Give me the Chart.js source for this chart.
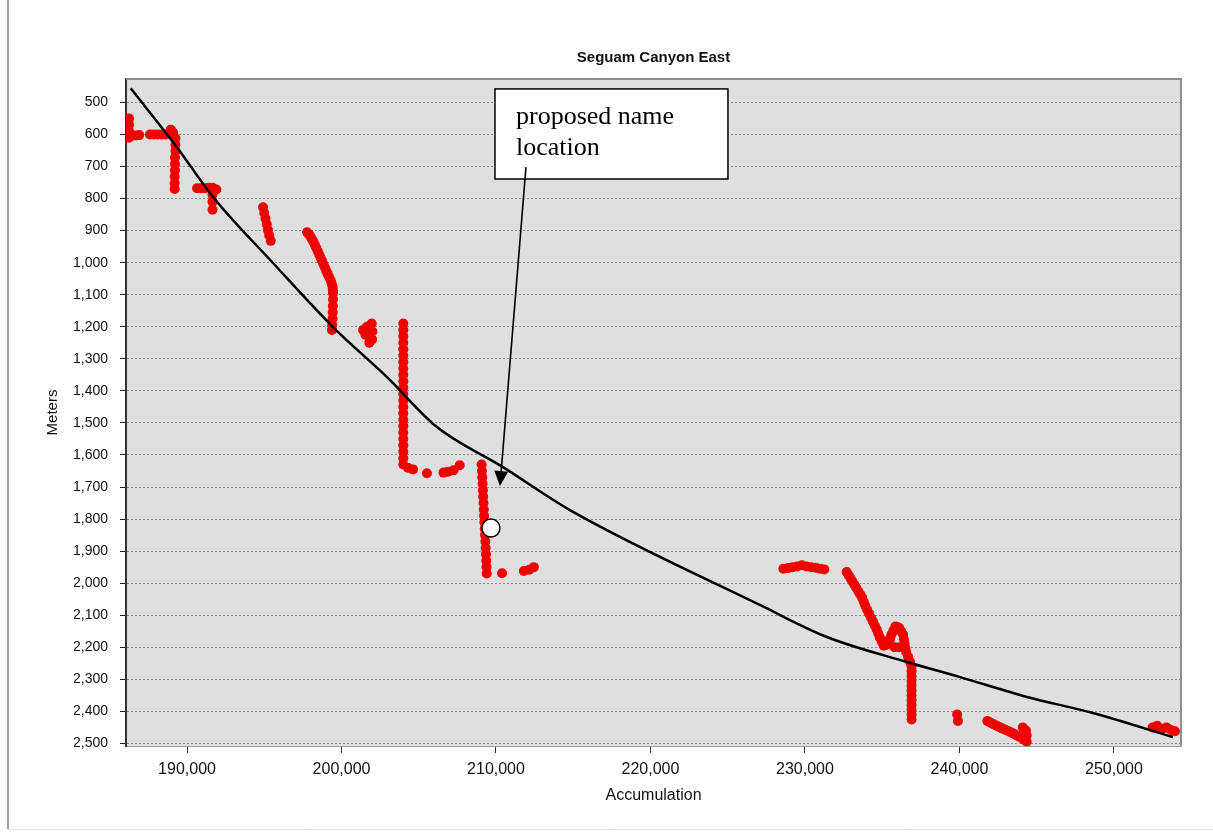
<!DOCTYPE html>
<html>
<head>
<meta charset="utf-8">
<title>Seguam Canyon East</title>
<script src="https://cdn.jsdelivr.net/npm/chart.js@4.4.1/dist/chart.umd.min.js"></script>
<style>
  html, body { margin: 0; padding: 0; background: #fff; }
  #wrap { position: relative; width: 1213px; height: 834px; }
</style>
</head>
<body>
<div id="wrap"><canvas id="chart" width="1213" height="834"></canvas></div>
<script>
// Red survey points (accumulation, meters)
const redX = [
  186150, 186250, 186250, 186250, 186250, 186450, 186700, 186900,
  187600, 187850, 188100, 188350, 188600, 188850, 188950, 189100, 189250, 189250, 189250, 189220, 189220, 189220, 189200, 189200, 189200,
  190650, 190900, 191150, 191400, 191650, 191650, 191650, 191650, 191900,
  194920, 195000, 195080, 195160, 195240, 195320, 195420,
  197770, 197980, 198180, 198380, 198560, 198740, 198920, 199100, 199300, 199420, 199450, 199450, 199440, 199430, 199420, 199400, 199380,
  197875, 198080, 198280, 198470, 198650, 198830, 199010, 199200, 199360, 199440,
  201400, 201650, 201950, 202000, 201980, 201800, 201550,
  204000, 204000, 204000, 204000, 204000, 204000, 204000, 204000, 204000, 204000, 204000, 204000,
  204000, 204000, 204000, 204000, 204000, 204000, 204000, 204000, 204000, 204000, 204000,
  204300, 204630, 205530, 206600, 206900, 207250, 207650,
  209070, 209090, 209110, 209130, 209150, 209170, 209190, 209210, 209230, 209250, 209270, 209290,
  209310, 209330, 209350, 209370, 209385, 209400,
  210390, 211800, 212150, 212450,
  228600, 228900, 229200, 229500, 229800, 230100, 230400, 230700, 231000, 231250,
  232700, 232950, 233200, 233450, 233700, 233900, 234150, 234400, 234650, 234850, 235100, 235350, 235600, 235850,
  236100, 236350, 236450, 236550, 235800, 236100, 235500,
  232825, 233075, 233325, 233575, 233800, 234025, 234275, 234525, 234750, 234975, 235225, 235475, 235725, 235975,
  236225, 236400, 236500, 236675,
  236800, 236900, 236900, 236900, 236900, 236900, 236900,
  236900, 236900, 236900, 236900, 236900, 236900,
  239850, 239900,
  241800, 242100, 242400, 242700, 243000, 243300, 243600, 243900, 244200, 244350, 244300, 244100, 244350,
  241950, 242250, 242550, 242850, 243150, 243450, 243750, 244050,
  252500, 252800, 253100, 253400, 253700, 253950
];
const redY = [
  602, 550, 570, 590, 610, 603, 603, 602,
  600, 600, 600, 600, 600, 598, 585, 595, 612, 632, 652, 672, 692, 712, 732, 752, 770,
  768, 768, 768, 766, 766, 788, 810, 835, 772,
  827, 845, 862, 880, 898, 915, 932,
  905, 918, 935, 955, 975, 995, 1015, 1035, 1055, 1075, 1095, 1115, 1135, 1155, 1175, 1195, 1210,
  911, 926, 945, 965, 985, 1005, 1025, 1045, 1065, 1085,
  1210, 1200, 1190, 1215, 1240, 1250, 1225,
  1190, 1210, 1230, 1250, 1270, 1290, 1310, 1330, 1350, 1370, 1390, 1410,
  1430, 1450, 1470, 1490, 1510, 1530, 1550, 1570, 1590, 1610, 1630,
  1640, 1645, 1657, 1655, 1652, 1648, 1632,
  1630, 1650, 1670, 1690, 1710, 1730, 1750, 1770, 1790, 1810, 1830, 1850,
  1870, 1890, 1910, 1930, 1950, 1970,
  1969, 1962, 1958, 1950,
  1955, 1953, 1950, 1948, 1944, 1948, 1950, 1952, 1955, 1957,
  1965, 1985, 2005, 2025, 2045, 2070, 2095, 2120, 2145, 2170, 2195, 2190, 2160, 2135,
  2140, 2160, 2190, 2215, 2200, 2200, 2175,
  1975, 1995, 2015, 2035, 2058, 2083, 2108, 2133, 2158, 2183, 2193, 2175, 2148, 2137,
  2150, 2175, 2203, 2230,
  2245, 2275, 2305, 2335, 2365, 2395, 2425,
  2260, 2290, 2320, 2350, 2380, 2410,
  2410, 2430,
  2430, 2438, 2445, 2452, 2458, 2465, 2472, 2480, 2488, 2495, 2460, 2450, 2475,
  2434, 2441, 2448, 2455, 2461, 2468, 2476, 2484,
  2450, 2445, 2455, 2450, 2458, 2462
];

// Black fitted profile
const curveX = [186356, 189333, 191683, 195566, 199449, 202944, 206180, 210452, 214788, 227085, 231421, 236598, 240029, 244365, 248636, 253814];
const curveY = [456, 639, 795, 1001, 1201, 1357, 1513, 1638, 1772, 2068, 2168, 2246, 2293, 2355, 2405, 2480];

// Proposed name location marker
const markerX = [209675];
const markerY = [1828];

const xTicks = [190000, 200000, 210000, 220000, 230000, 240000, 250000];
const yTicks = [500, 600, 700, 800, 900, 1000, 1100, 1200, 1300, 1400, 1500, 1600, 1700, 1800, 1900, 2000, 2100, 2200, 2300, 2400, 2500];

// Callout: box corners and arrow, in data units
const noteText = ["proposed name", "location"];
const noteBoxX = [209934, 225014];
const noteBoxY = [458, 739];
const noteArrowX = [211940, 210257];
const noteArrowY = [702, 1697];

const SANS = '"Liberation Sans", Arial, sans-serif';

const toPoints = (xs, ys) => xs.map((v, i) => ({ x: v, y: ys[i] }));

const decorations = {
  id: "decorations",
  beforeDraw(chart) {
    const { ctx, chartArea: a } = chart;
    ctx.save();
    ctx.fillStyle = "#ffffff";
    ctx.fillRect(0, 0, chart.width, chart.height);
    ctx.fillStyle = "#dfdfdf";
    ctx.fillRect(a.left, a.top, a.right - a.left, a.bottom - a.top);
    // page frame
    ctx.strokeStyle = "#a0a0a0";
    ctx.lineWidth = 2;
    ctx.beginPath();
    ctx.moveTo(8, 0);
    ctx.lineTo(8, 829);
    ctx.stroke();
    ctx.strokeStyle = "#e4e4e4";
    ctx.lineWidth = 1;
    ctx.beginPath();
    ctx.moveTo(8, 829.5);
    ctx.lineTo(chart.width, 829.5);
    ctx.stroke();
    ctx.restore();
  },
  afterDraw(chart) {
    const { ctx, chartArea: a, scales } = chart;
    const x = scales.x, y = scales.y;
    ctx.save();
    // plot frame top / right
    ctx.strokeStyle = "#8f8f8f";
    ctx.lineWidth = 2;
    ctx.beginPath();
    ctx.moveTo(a.left, a.top);
    ctx.lineTo(a.right, a.top);
    ctx.lineTo(a.right, a.bottom);
    ctx.stroke();

    // callout box
    const bx1 = x.getPixelForValue(noteBoxX[0]);
    const bx2 = x.getPixelForValue(noteBoxX[1]);
    const by1 = y.getPixelForValue(noteBoxY[0]);
    const by2 = y.getPixelForValue(noteBoxY[1]);
    ctx.fillStyle = "#ffffff";
    ctx.fillRect(bx1, by1, bx2 - bx1, by2 - by1);
    ctx.strokeStyle = "#000";
    ctx.lineWidth = 1.5;
    ctx.strokeRect(bx1, by1, bx2 - bx1, by2 - by1);
    ctx.fillStyle = "#000";
    ctx.font = '26px "Liberation Serif", "Times New Roman", serif';
    ctx.textAlign = "left";
    ctx.textBaseline = "alphabetic";
    ctx.fillText(noteText[0], bx1 + 21, by1 + 35);
    ctx.fillText(noteText[1], bx1 + 21, by1 + 66);

    // arrow
    const sx = x.getPixelForValue(noteArrowX[0]);
    const sy = y.getPixelForValue(noteArrowY[0]);
    const tx = x.getPixelForValue(noteArrowX[1]);
    const ty = y.getPixelForValue(noteArrowY[1]);
    const ang = Math.atan2(ty - sy, tx - sx);
    const len = 15, half = 7;
    const baseX = tx - len * Math.cos(ang), baseY = ty - len * Math.sin(ang);
    ctx.lineWidth = 1.6;
    ctx.beginPath();
    ctx.moveTo(sx, sy);
    ctx.lineTo(baseX, baseY);
    ctx.stroke();
    ctx.beginPath();
    ctx.moveTo(tx, ty);
    ctx.lineTo(baseX + half * Math.sin(ang), baseY - half * Math.cos(ang));
    ctx.lineTo(baseX - half * Math.sin(ang), baseY + half * Math.cos(ang));
    ctx.closePath();
    ctx.fill();
    ctx.restore();
  }
};

const chart = new Chart(document.getElementById("chart"), {
  type: "scatter",
  data: {
    datasets: [
      {
        label: "Proposed name location",
        data: toPoints(markerX, markerY),
        pointRadius: 9,
        pointBackgroundColor: "#ffffff",
        pointBorderColor: "#000000",
        pointBorderWidth: 1.5
      },
      {
        label: "Profile",
        data: toPoints(curveX, curveY),
        showLine: true,
        borderColor: "#000000",
        borderWidth: 2.5,
        pointRadius: 0,
        cubicInterpolationMode: "monotone"
      },
      {
        label: "Soundings",
        data: toPoints(redX, redY),
        pointRadius: 5,
        pointBackgroundColor: "#f00000",
        pointBorderWidth: 0
      }
    ]
  },
  options: {
    responsive: false,
    devicePixelRatio: 1,
    animation: false,
    events: [],
    layout: { padding: { left: 40, right: 32, top: 0, bottom: 0 } },
    plugins: {
      legend: { display: false },
      tooltip: { enabled: false },
      title: {
        display: true,
        fullSize: false,
        text: "Seguam Canyon East",
        color: "#111",
        font: { family: SANS, size: 15, weight: "bold" },
        padding: { top: 49, bottom: 12 }
      }
    },
    scales: {
      x: {
        type: "linear",
        min: 186050,
        max: 254340,
        afterBuildTicks: (s) => { s.ticks = xTicks.map((v) => ({ value: v })); },
        afterFit: (s) => { s.height = 88; },
        grid: { drawOnChartArea: false, drawTicks: true, tickLength: 7, tickColor: "#333", tickWidth: 1 },
        border: { color: "#9a9a9a", width: 1 },
        ticks: {
          padding: 7,
          color: "#111",
          font: { family: SANS, size: 16 },
          maxRotation: 0,
          callback: (v) => v.toLocaleString("en-US")
        },
        title: {
          display: true,
          text: "Accumulation",
          color: "#111",
          font: { family: SANS, size: 16 },
          padding: { top: 0, bottom: 29 }
        }
      },
      y: {
        type: "linear",
        reverse: true,
        min: 427,
        max: 2508,
        afterBuildTicks: (s) => { s.ticks = yTicks.map((v) => ({ value: v })); },
        afterFit: (s) => { s.width = 86; },
        grid: { color: "#8a8a8a", lineWidth: 1, tickLength: 6, tickColor: "#222", tickWidth: 1, tickBorderDash: [] },
        border: { color: "#333", width: 2, dash: [2, 2] },
        ticks: {
          padding: 12,
          color: "#111",
          font: { family: SANS, size: 14 },
          callback: (v) => v.toLocaleString("en-US")
        },
        title: {
          display: true,
          text: "Meters",
          color: "#111",
          font: { family: SANS, size: 15 },
          padding: { top: 4, bottom: 0 }
        }
      }
    }
  },
  plugins: [decorations]
});
</script>
</body>
</html>
